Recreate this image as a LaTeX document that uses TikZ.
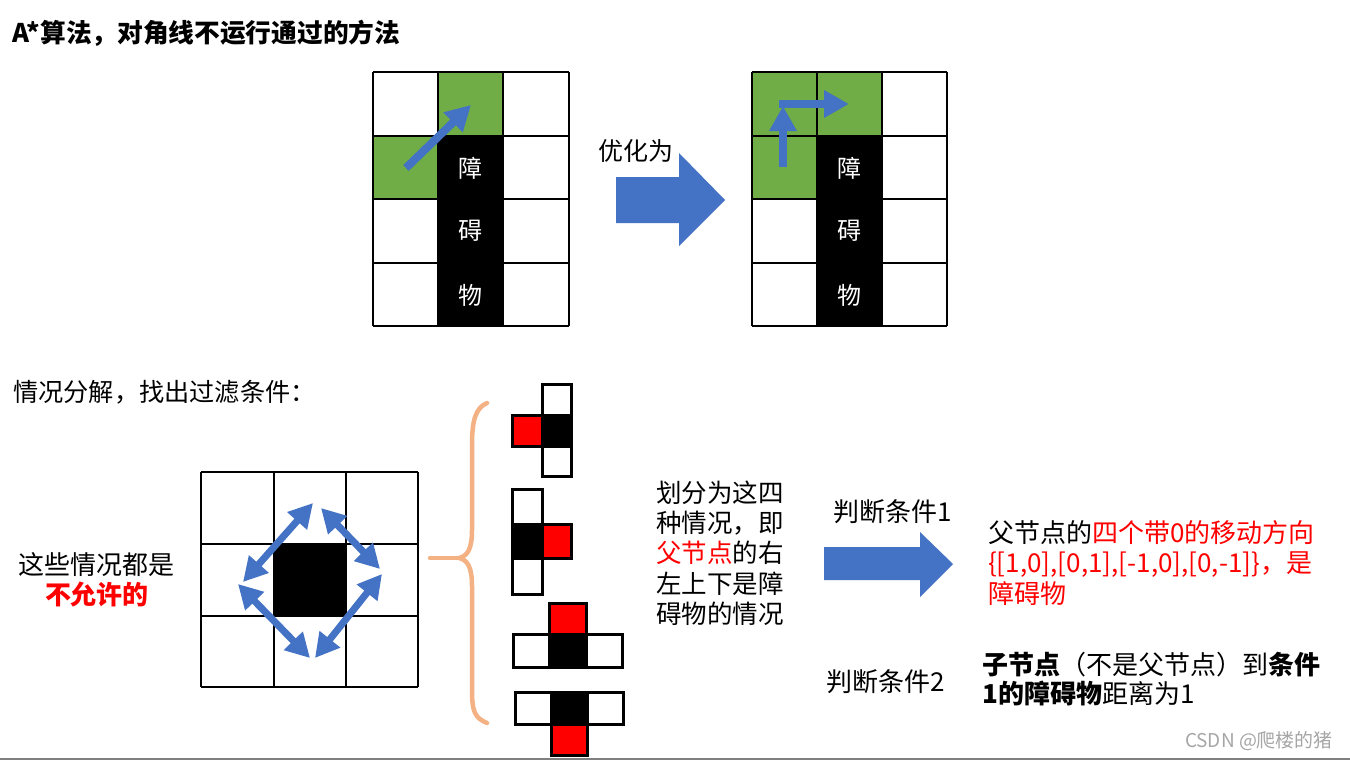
\documentclass[tikz,border=0pt]{standalone}
\usepackage{fontspec}
\setmainfont{Noto Sans CJK SC}
\usetikzlibrary{arrows.meta}
\definecolor{myblue}{HTML}{4472C4}
\definecolor{mygreen}{HTML}{70AD47}
\definecolor{myred}{HTML}{FF0000}
\definecolor{myorange}{HTML}{F4B183}
\definecolor{wmgray}{HTML}{A6A6A6}
\newcommand{\myfs}[1]{\fontsize{#1}{#1}\selectfont}
\begin{document}
\begin{tikzpicture}[x=1pt,y=-1pt,
  txt/.style={inner sep=0pt, font=\fontsize{26}{30.5}\selectfont},
  celldraw/.style={draw=black, line width=3pt},
  gline/.style={draw=black, line width=2pt},
  blockarrow/.style={fill=myblue, draw=none},
  thinarrow/.style={draw=myblue, line width=8pt, -{Triangle[length=25pt,width=26pt]}},
  dblarrow/.style={draw=myblue, line width=7pt, {Triangle[length=24pt,width=25pt]}-{Triangle[length=24pt,width=25pt]}},
  bracestyle/.style={draw=myorange, line width=4.5pt, line cap=round, line join=round},
  obst/.style={inner sep=0pt, text=white, font=\myfs{24}}
]
\useasboundingbox (0,0) rectangle (1350,760);
\fill[white] (0,0) rectangle (1350,760);

% Title
\node[txt, anchor=west, font=\myfs{25.7}\bfseries] (title) at (12,33) {A*算法，对角线不运行通过的方法};

% ---------- Top-left grid ----------
\fill[mygreen] (438,72) rectangle (503,136);
\fill[mygreen] (373,136) rectangle (438,199);
\fill[black] (438,136) rectangle (503,326);
\foreach \x in {373,438,503,569} \draw[gline] (\x,72) -- (\x,326);
\foreach \y in {72,136,199,263,326} \draw[gline] (373,\y) -- (569,\y);
\node[obst] (ob1) at (470.5,168) {障};
\node[obst] (ob2) at (470.5,231) {碍};
\node[obst] (ob3) at (470.5,295) {物};
\coordinate (la1) at (406,168);
\coordinate (la2) at (471,105);
\draw[thinarrow] (la1) -- (la2);

% optimise arrow
\node[txt, font=\myfs{25}] (opt) at (636,151) {优化为};
\fill[blockarrow] (616,177) -- (679,177) -- (679,153) -- (725,200) -- (679,246) -- (679,223) -- (616,223) -- cycle;

% ---------- Top-right grid ----------
\fill[mygreen] (752,72) rectangle (882,136);
\fill[mygreen] (752,136) rectangle (817,199);
\fill[black] (817,136) rectangle (882,326);
\foreach \x in {752,817,882,947} \draw[gline] (\x,72) -- (\x,326);
\foreach \y in {72,136,199,263,326} \draw[gline] (752,\y) -- (947,\y);
\node[obst] (ob4) at (849.5,168) {障};
\node[obst] (ob5) at (849.5,231) {碍};
\node[obst] (ob6) at (849.5,295) {物};
\coordinate (ra0) at (779,104);
\coordinate (ra1) at (849,104);
\coordinate (ra2) at (783,167);
\coordinate (ra3) at (783,106);
\draw[thinarrow] (ra0) -- (ra1);
\draw[thinarrow] (ra2) -- (ra3);

% ---------- Section heading ----------
\node[txt, anchor=west, font=\myfs{25.2}] (sec) at (13,392) {情况分解，找出过滤条件：};

% left text
\node[txt, align=center] (notallowed) at (97,580) {这些情况都是\\\textcolor{myred}{\bfseries 不允许的}};

% ---------- Bottom-left 3x3 grid ----------
\fill[black] (274,544) rectangle (346,616);
\foreach \x in {201,274,346,418} \draw[gline] (\x,472) -- (\x,687);
\foreach \y in {472,544,616,687} \draw[gline] (201,\y) -- (418,\y);
\coordinate (d1a) at (243,582); \coordinate (d1b) at (313,503);
\coordinate (d2a) at (321,508); \coordinate (d2b) at (380,569);
\coordinate (d3a) at (382,574); \coordinate (d3b) at (315,658);
\coordinate (d4a) at (238,584); \coordinate (d4b) at (310,658);
\draw[dblarrow] (d1a) -- (d1b);
\draw[dblarrow] (d2a) -- (d2b);
\draw[dblarrow] (d3a) -- (d3b);
\draw[dblarrow] (d4a) -- (d4b);

% ---------- Brace ----------
\draw[bracestyle] (487,403) .. controls (475,408) and (472,422) .. (472,445)
  -- (472,530) .. controls (472,548) and (468,556) .. (459,558)
  .. controls (468,560) and (472,568) .. (472,586)
  -- (472,690) .. controls (472,712) and (475,718) .. (487,723);
\draw[bracestyle] (459,558) -- (430,558);

% ---------- Four cases ----------
% case 1
\filldraw[celldraw, fill=white] (542,384) rectangle (571,415);
\filldraw[celldraw, fill=black] (542,415) rectangle (571,446);
\filldraw[celldraw, fill=white] (542,446) rectangle (571,476);
\filldraw[celldraw, fill=myred] (512,415) rectangle (542,446);
% case 2
\filldraw[celldraw, fill=white] (512,489) rectangle (542,524);
\filldraw[celldraw, fill=black] (512,524) rectangle (542,558);
\filldraw[celldraw, fill=myred] (542,524) rectangle (571,558);
\filldraw[celldraw, fill=white] (512,558) rectangle (542,594);
% case 3
\filldraw[celldraw, fill=myred] (549,603) rectangle (586,634);
\filldraw[celldraw, fill=white] (513,634) rectangle (549,667);
\filldraw[celldraw, fill=black] (549,634) rectangle (586,667);
\filldraw[celldraw, fill=white] (586,634) rectangle (622,667);
% case 4
\filldraw[celldraw, fill=white] (515,692) rectangle (551,724);
\filldraw[celldraw, fill=black] (551,692) rectangle (587,724);
\filldraw[celldraw, fill=white] (587,692) rectangle (623,724);
\filldraw[celldraw, fill=myred] (551,724) rectangle (587,755);

% ---------- explanation text ----------
\node[txt, anchor=west, align=left, font=\fontsize{25.5}{30.3}\selectfont] (explain) at (656,553)
  {划分为这四\\种情况，即\\\textcolor{myred}{父节点}的右\\左上下是障\\碍物的情况};

\node[txt] (cond1) at (893,512) {判断条件1};
\fill[blockarrow] (824,547) -- (920,547) -- (920,532) -- (953,564) -- (920,597) -- (920,580) -- (824,580) -- cycle;

\node[txt, anchor=west, align=left] (c1text) at (988,563)
  {父节点的\textcolor{myred}{四个带0的移动方向}\\\textcolor{myred}{\{[1,0],[0,1],[-1,0],[0,-1]\}，是}\\\textcolor{myred}{障碍物}};

\node[txt] (cond2) at (886,682) {判断条件2};
\node[txt, anchor=west, align=left, font=\fontsize{26}{29}\selectfont] (c2text) at (982,679)
  {\textbf{子节点}（不是父节点）到\textbf{条件}\\\textbf{1的障碍物}距离为1};

% watermark and bottom line
\node[inner sep=0pt, text=wmgray, font=\myfs{19}] (wm) at (1259,741) {CSDN @爬楼的猪};
\draw[gray, line width=1.5pt] (0,759) -- (1350,759);
\end{tikzpicture}
\end{document}
